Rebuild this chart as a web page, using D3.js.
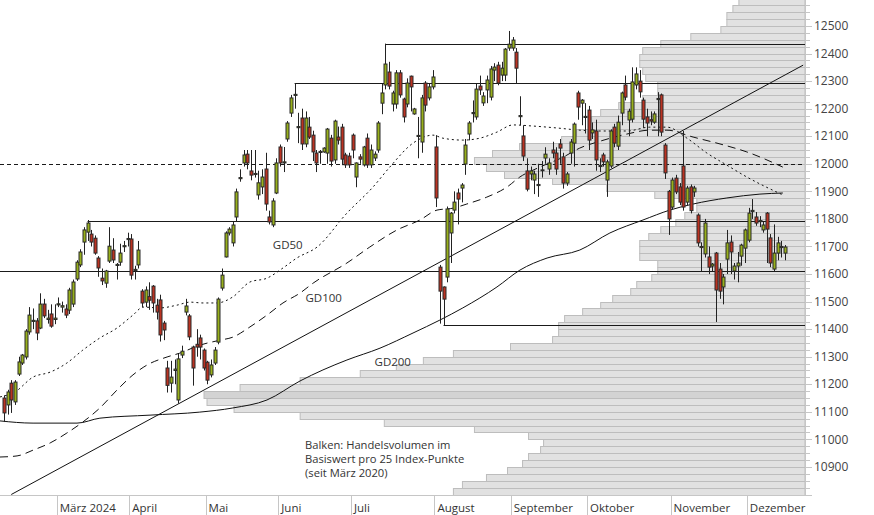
<!DOCTYPE html>
<html>
<head>
<meta charset="utf-8">
<script src="https://cdn.jsdelivr.net/npm/d3@7/dist/d3.min.js"></script>
<style>
    body { margin: 0; background: #ffffff; }
    svg { display: block; font-family: "Open Sans", "Noto Sans", sans-serif; }
</style>
</head>
<body>
<script>

// Daily candles [open, high, low, close], Feb - Dec 2024
var candleOHLC = [
    [11150,11160,11063,11096],[11125,11180,11090,11172],[11204,11215,11096,11143],[11136,11215,11125,11208],
    [11237,11300,11230,11281],[11277,11310,11270,11306],[11299,11400,11290,11393],[11390,11480,11380,11451],
    [11428,11475,11400,11432],[11430,11440,11360,11386],[11404,11530,11400,11491],[11491,11510,11440,11448],
    [11435,11470,11420,11440],[11455,11490,11405,11411],[11435,11490,11418,11440],
    // März
    [11488,11515,11480,11492],[11480,11500,11460,11485],[11473,11490,11440,11451],[11469,11550,11455,11542],
    [11491,11580,11480,11571],[11582,11650,11575,11643],[11633,11690,11625,11680],[11716,11770,11670,11760],
    [11752,11796,11720,11785],[11745,11760,11700,11716],[11730,11740,11670,11676],[11658,11665,11590,11622],
    [11585,11620,11560,11575],[11567,11615,11550,11611],[11647,11770,11640,11701],[11687,11730,11640,11651],
    [11631,11640,11580,11635],[11643,11710,11630,11676],[11699,11720,11680,11703],[11725,11750,11700,11729],
    // April
    [11727,11745,11580,11596],[11613,11630,11580,11617],[11633,11720,11620,11687],[11538,11545,11480,11495],
    [11498,11555,11480,11542],[11518,11570,11470,11505],[11556,11560,11460,11495],[11487,11510,11435,11462],
    [11506,11525,11355,11379],[11422,11430,11360,11397],[11259,11285,11170,11196],[11204,11285,11170,11226],
    [11250,11290,11200,11255],[11143,11310,11130,11292],[11306,11340,11295,11320],[11462,11510,11450,11484],
    [11448,11455,11360,11372],[11335,11340,11195,11259],[11345,11400,11300,11335],[11368,11380,11290,11335],
    [11324,11330,11250,11259],
    // Mai
    [11280,11285,11200,11215],[11234,11290,11225,11270],[11277,11335,11270,11324],[11353,11515,11345,11509],
    [11549,11620,11540,11596],[11662,11755,11660,11749],[11749,11770,11740,11763],[11713,11790,11700,11778],
    [11807,11910,11790,11898],[11946,11980,11935,11950],[12003,12050,11990,12032],[12035,12050,11980,12003],
    [11974,12050,11940,11959],[11961,12050,11950,11965],[11887,11975,11870,11931],[11916,11980,11890,11952],
    [11981,12040,11830,11854],[11807,11830,11780,11789],[11778,11875,11770,11865],[11894,12020,11890,12003],
    // Juni
    [12061,12070,11990,12003],[12003,12061,11970,12007],[12090,12155,12080,12148],[12184,12250,12170,12239],
    [12248,12293,12200,12252],[12131,12185,12075,12135],[12166,12200,12050,12072],[12072,12190,12060,12166],
    [12133,12170,12090,12097],[12104,12120,12010,12043],[12039,12050,11970,12003],[12041,12050,12000,12045],
    [12043,12060,12040,12057],[12039,12130,12000,12126],[12093,12105,11990,12010],[12014,12160,12000,12155],
    [12097,12135,12070,12086],[12133,12145,11995,12017],[12032,12040,11985,11996],[12028,12040,11985,11996],
    // Juli
    [12104,12110,12020,12050],[11952,12005,11915,12003],[12025,12035,12000,12017],[11996,12065,11990,12061],
    [12093,12110,11985,11996],[11996,12070,11985,12050],[12021,12045,12010,12035],[12050,12155,12040,12148],
    [12220,12290,12180,12257],[12286,12436,12270,12362],[12333,12370,12270,12282],[12217,12265,12190,12257],
    [12217,12340,12200,12330],[12330,12340,12240,12250],[12235,12240,12150,12170],[12217,12310,12205,12293],
    [12318,12320,12190,12279],[12181,12203,12178,12199],[12099,12170,12020,12103],[12079,12250,12040,12239],
    [12293,12300,12190,12213],[12239,12290,12230,12279],[12279,12340,12270,12315],
    // August
    [12061,12104,11843,11876],[11625,11633,11420,11538],[11553,11555,11415,11509],[11589,11845,11570,11836],
    [11749,11825,11640,11821],[11832,11900,11820,11861],[11894,11910,11780,11872],[11912,11930,11860,11923],
    [11999,12090,11960,12068],[12108,12155,12085,12148],[12182,12230,12150,12186],[12170,12290,12160,12271],
    [12282,12320,12250,12268],[12221,12260,12210,12246],[12268,12320,12220,12304],[12242,12355,12230,12344],
    [12340,12365,12300,12351],[12358,12370,12285,12293],[12322,12370,12300,12347],[12322,12420,12300,12416],
    [12420,12482,12410,12434],
    // September
    [12420,12460,12410,12449],[12405,12420,12290,12347],[12171,12245,12140,12175],[12101,12140,12010,12028],
    [11974,12020,11900,11908],[11963,11990,11940,11974],[11941,11975,11890,11963],[11921,12000,11880,11925],
    [11975,12010,11950,11978],[12021,12060,12000,12035],[11981,12020,11960,12003],[12050,12080,12020,12039],
    [12039,12060,11960,11981],[12072,12090,12000,12057],[12025,12040,11910,11930],[11930,11970,11920,11963],
    [12039,12090,12000,12079],[12075,12150,11990,12144],[12257,12265,12160,12206],[12220,12235,12140,12231],
    [12168,12220,12110,12172],
    // Oktober
    [12195,12210,12050,12086],[12112,12150,12090,12123],[12119,12160,11975,12014],[11990,12020,11970,11994],
    [12032,12040,11990,12007],[11941,12015,11880,12007],[11992,12125,11985,12119],[12133,12145,12060,12075],
    [12064,12175,12050,12151],[12184,12262,12140,12257],[12286,12320,12230,12242],[12159,12200,12100,12191],
    [12162,12350,12150,12297],[12286,12350,12270,12326],[12300,12340,12240,12261],[12231,12240,12130,12162],
    [12170,12200,12100,12148],[12160,12190,12140,12155],[12151,12190,12145,12181],[12233,12260,12100,12237],
    [12250,12255,12100,12115],[12068,12075,11945,11967],[11900,11905,11742,11800],
    // November
    [11843,11950,11835,11941],[11948,11960,11890,11898],[11916,11930,11850,11861],[11992,12119,11830,11843],
    [11861,11920,11850,11912],[11916,11925,11820,11830],[11898,11920,11880,11912],[11814,11820,11700,11713],
    [11696,11715,11610,11700],[11673,11800,11660,11785],[11662,11700,11600,11625],[11629,11640,11610,11636],
    [11676,11680,11426,11542],[11618,11640,11510,11538],[11553,11600,11490,11589],[11654,11760,11600,11713],
    [11716,11740,11600,11680],[11611,11640,11580,11629],[11629,11680,11570,11640],[11665,11710,11630,11705],
    [11694,11765,11640,11760],
    // Dezember
    [11723,11840,11715,11821],[11827,11872,11800,11831],[11807,11825,11775,11785],[11790,11810,11770,11794],
    [11760,11790,11750,11778],[11821,11825,11640,11763],[11731,11745,11625,11640],[11618,11780,11610,11676],
    [11676,11735,11650,11713],[11696,11720,11660,11700],[11676,11705,11650,11698]
];

// month labels and index of their first candle
var monthNames = ["März 2024", "April", "Mai", "Juni", "Juli", "August", "September", "Oktober", "November", "Dezember"];
var monthFirstCandle = [15, 35, 56, 76, 96, 119, 140, 161, 184, 205];

var yTickValues = [10900, 11000, 11100, 11200, 11300, 11400, 11500, 11600, 11700, 11800, 11900, 12000, 12100, 12200, 12300, 12400, 12500];

// volume profile: relative turnover per 25 index points, from 10800 upwards
var volumeBinSize = 25;
var volumeBinStart = 10800;
var volumeShare = [
    58.5, 57, 53, 49.5, 47, 46, 44, 43.5, 46, 55, 70, 84, 95, 99.5, 100, 94,
    84, 74, 68, 63.5, 58.5, 49, 42, 41, 41, 40, 37, 34, 32, 29, 28, 25.5,
    24.5, 24.5, 27.5, 27.5, 27.5, 26, 24, 21.5, 20, 18, 18, 25, 33, 42, 50, 53,
    55, 52, 47.5, 40.5, 38, 35.5, 35.5, 34, 31, 27, 24.5, 24.5, 26.5, 27, 27.5, 27.5,
    27, 24, 19, 14, 13, 13, 12, 11
];

// support / resistance levels and the candle they start from
var levelValues = [12436, 12293, 11794, 11611, 11415];
var levelStartCandle = [105, 80, 23, -2, 121];
var dashedLevel = 12000;

// trend line through two points [candle index, value]
var trendPoints = [[2, 10800], [220, 12358]];

// moving averages [candle index, value]
var gd50 = [[-1.1,11154],[3,11172],[8,11226],[12.7,11244],[17.3,11277],[21.7,11324],[26.4,11368],[31.1,11404],
    [35.5,11451],[38.3,11480],[42.9,11477],[47.6,11487],[51.2,11498],[54.8,11495],[58.6,11495],[63,11517],
    [67.7,11571],[72.4,11585],[76.8,11622],[80.6,11658],[86.2,11698],[94.4,11821],[101.6,11916],[106.2,11988],
    [112.6,12075],[118.1,12104],[120.8,12093],[126.3,12086],[131,12093],[135.7,12115],[140.1,12141],[145.6,12137],
    [152.2,12130],[158.5,12122],[164.1,12119],[171.5,12119],[177.8,12133],[182.5,12133],[188,12093],[193.5,12039],
    [199,11995],[204.5,11952],[214.4,11887]];
var gd100 = [[-1.1,10936],[3.6,10940],[8,10961],[12.7,10987],[17.3,11023],[21.7,11063],[26.4,11114],[31.1,11179],
    [35.5,11234],[39.4,11270],[44.9,11299],[48.4,11313],[53.9,11342],[59.5,11360],[63,11371],[67.7,11408],
    [72.4,11451],[76.8,11495],[81.5,11531],[85.1,11567],[94.4,11640],[100.7,11698],[108.2,11760],[114.5,11796],
    [119.2,11832],[123.6,11839],[127.4,11854],[132.9,11879],[138.5,11916],[142,11952],[147.5,11988],[153.9,12024],
    [158.5,12057],[164.1,12082],[171.5,12108],[177.8,12122],[182.5,12122],[189.7,12097],[197.1,12072],[204.5,12043],
    [214.4,11988]];
var gd200 = [[-1.1,11067],[8,11059],[20.1,11059],[26.4,11077],[40.2,11088],[53.9,11099],[63,11114],[72.4,11143],
    [81.5,11212],[87.8,11252],[94.4,11288],[103.5,11331],[112.6,11386],[120,11433],[126.3,11477],[135.7,11553],
    [142,11614],[149.5,11658],[158.5,11687],[166.8,11749],[175.9,11796],[183.3,11832],[189.7,11854],[199,11876],
    [208.1,11890],[214.4,11894]];

var maLabels = [
    {text: "GD50", at: [74, 11690]},
    {text: "GD100", at: [83, 11497]},
    {text: "GD200", at: [102, 11268]}
];
var noteLines = ["Balken: Handelsvolumen im", "Basiswert pro 25 Index-Punkte", "(seit März 2020)"];

var width = 874, height = 515;
var plotRight = 805, plotBottom = 495;

var svg = d3.select("body").append("svg")
    .attr("width", width)
    .attr("height", height);

svg.append("defs").append("clipPath").attr("id", "plot-clip")
    .append("rect").attr("x", 0).attr("y", 0).attr("width", plotRight).attr("height", plotBottom);

var x = d3.scaleLinear().domain([0, candleOHLC.length - 1]).range([4, 785]);
var y = d3.scaleLinear().domain([10800, 12500]).range([494.5, 26]);
var vol = d3.scaleLinear().domain([0, 100]).range([0, 601]);

var plot = svg.append("g").attr("clip-path", "url(#plot-clip)");

// volume profile bars
var maxShare = d3.max(volumeShare);
plot.append("g").selectAll("rect")
    .data(volumeShare)
    .enter()
    .append("rect")
    .attr("x", function (d) { return plotRight - vol(d); })
    .attr("y", function (d, i) { return Math.round(y(volumeBinStart + (i + 1) * volumeBinSize)) + 0.5; })
    .attr("width", function (d) { return vol(d); })
    .attr("height", function (d, i) {
        return Math.round(y(volumeBinStart + i * volumeBinSize)) - Math.round(y(volumeBinStart + (i + 1) * volumeBinSize));
    })
    .style("fill", function (d) { return d === maxShare ? "#d3d3d3" : "#e1e1e1"; })
    .style("stroke", "#bdbdbd")
    .style("stroke-width", 1);

// horizontal levels
plot.append("g").selectAll("line")
    .data(levelValues)
    .enter()
    .append("line")
    .attr("x1", function (d, i) { return x(levelStartCandle[i]); })
    .attr("x2", plotRight)
    .attr("y1", function (d) { return Math.round(y(d)) + 0.5; })
    .attr("y2", function (d) { return Math.round(y(d)) + 0.5; })
    .style("stroke", "#1a1a1a")
    .style("stroke-width", 1.2);

plot.append("line")
    .attr("x1", 0).attr("x2", plotRight)
    .attr("y1", Math.round(y(dashedLevel)) + 0.5)
    .attr("y2", Math.round(y(dashedLevel)) + 0.5)
    .style("stroke", "#1a1a1a")
    .style("stroke-width", 1.2)
    .style("stroke-dasharray", "4,3");

// trend line and moving averages
var line = d3.line()
    .x(function (d) { return x(d[0]); })
    .y(function (d) { return y(d[1]); })
    .curve(d3.curveMonotoneX);

plot.append("path").datum(trendPoints)
    .attr("d", d3.line().x(function (d) { return x(d[0]); }).y(function (d) { return y(d[1]); }))
    .style("fill", "none").style("stroke", "#111").style("stroke-width", 1);

plot.append("path").datum(gd50).attr("d", line)
    .style("fill", "none").style("stroke", "#111").style("stroke-width", 1)
    .style("stroke-dasharray", "2,3");
plot.append("path").datum(gd100).attr("d", line)
    .style("fill", "none").style("stroke", "#111").style("stroke-width", 1)
    .style("stroke-dasharray", "8,5");
plot.append("path").datum(gd200).attr("d", line)
    .style("fill", "none").style("stroke", "#111").style("stroke-width", 1);

// candles
var candles = plot.append("g").selectAll("g")
    .data(candleOHLC)
    .enter()
    .append("g");

candles.append("line")
    .attr("x1", function (d, i) { return Math.round(x(i)) + 0.5; })
    .attr("x2", function (d, i) { return Math.round(x(i)) + 0.5; })
    .attr("y1", function (d) { return y(d[1]); })
    .attr("y2", function (d) { return y(d[2]); })
    .style("stroke", "#222")
    .style("stroke-width", 1);

candles.append("rect")
    .attr("x", function (d, i) { return Math.round(x(i)) - 1; })
    .attr("y", function (d) { return y(Math.max(d[0], d[3])); })
    .attr("width", 3)
    .attr("height", function (d) { return Math.max(0.5, y(Math.min(d[0], d[3])) - y(Math.max(d[0], d[3]))); })
    .style("fill", function (d) { return d[3] >= d[0] ? "#98b01c" : "#bb3322"; })
    .style("stroke", "#2a2a2a")
    .style("stroke-width", 1);

// moving average names
svg.append("g").selectAll("text")
    .data(maLabels)
    .enter()
    .append("text")
    .attr("x", function (d) { return x(d.at[0]); })
    .attr("y", function (d) { return y(d.at[1]); })
    .style("font-size", "11.5px")
    .style("fill", "#333")
    .text(function (d) { return d.text; });

// note on the volume bars
svg.append("g").selectAll("text")
    .data(noteLines)
    .enter()
    .append("text")
    .attr("x", 305)
    .attr("y", function (d, i) { return 449 + i * 14; })
    .style("font-size", "11.2px")
    .style("fill", "#333")
    .text(function (d) { return d; });

// y axis on the right
var axisColor = "#c6c6c6";
svg.append("line")
    .attr("x1", plotRight + 0.5).attr("x2", plotRight + 0.5)
    .attr("y1", 0).attr("y2", plotBottom)
    .style("stroke", axisColor);

var minorTicks = d3.range(10800, 12601, 25);
svg.append("g").selectAll("line")
    .data(minorTicks)
    .enter()
    .append("line")
    .attr("x1", plotRight)
    .attr("x2", function (d) { return d % 100 === 0 ? plotRight + 7 : plotRight + 5; })
    .attr("y1", function (d) { return Math.round(y(d)) + 0.5; })
    .attr("y2", function (d) { return Math.round(y(d)) + 0.5; })
    .style("stroke", axisColor);

svg.append("g").selectAll("text")
    .data(yTickValues)
    .enter()
    .append("text")
    .attr("x", 814)
    .attr("y", function (d) { return y(d); })
    .attr("dy", "0.35em")
    .style("font-size", "12px")
    .style("fill", "#444")
    .text(function (d) { return d; });

// x axis with month separators
svg.append("line")
    .attr("x1", 0).attr("x2", plotRight)
    .attr("y1", plotBottom + 0.5).attr("y2", plotBottom + 0.5)
    .style("stroke", axisColor);

var months = svg.append("g").selectAll("g")
    .data(monthNames)
    .enter()
    .append("g");

months.append("line")
    .attr("x1", function (d, i) { return Math.round(x(monthFirstCandle[i] - 0.5)) + 0.5; })
    .attr("x2", function (d, i) { return Math.round(x(monthFirstCandle[i] - 0.5)) + 0.5; })
    .attr("y1", plotBottom)
    .attr("y2", height)
    .style("stroke", axisColor);

months.append("text")
    .attr("x", function (d, i) { return x(monthFirstCandle[i] - 0.5) + 3; })
    .attr("y", 512)
    .style("font-size", "11.5px")
    .style("fill", "#333")
    .text(function (d) { return d; });

</script>
</body>
</html>
